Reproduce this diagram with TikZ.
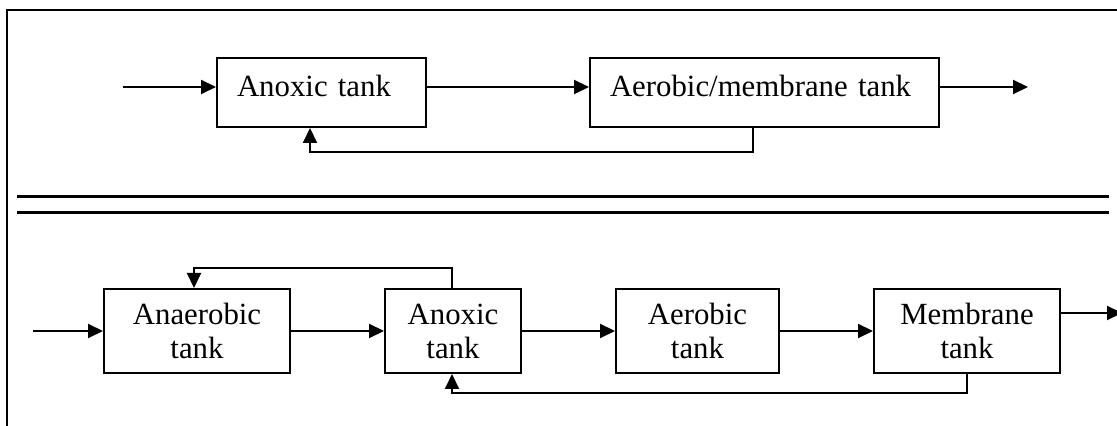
\documentclass[tikz,border=0pt]{standalone}
\usepackage{fontspec}
\setmainfont{Liberation Serif}
\usetikzlibrary{arrows.meta,positioning}

\begin{document}
\begin{tikzpicture}[x=0.5pt,y=-0.5pt,line width=1pt,>={Triangle[length=7.5pt,width=7pt]},
    tank/.style = {draw,inner sep=0pt,align=center,minimum height=42pt,font=\fontsize{15.4}{17}\selectfont},
    toptank/.style = {draw,inner xsep=10pt,inner ysep=9pt,align=left,text height=10.5pt,text depth=6pt,font=\fontsize{15.4}{17}\selectfont},
    rule/.style = {line width=1.5pt}]
    \useasboundingbox (0,0) rectangle (1117,426);
    % frame and separator
    \draw (7,440) -- (7,10) -- (1130,10);
    \draw[rule] (17,197) -- (1109,197);
    \draw[rule] (17,213) -- (1109,213);
    % upper scheme
    \node[toptank,text width=84.5pt](anoxA) at (321.5,92.5){Anoxic tank};
    \node[toptank,text width=154.5pt,right=81pt of anoxA](aerobA){Aerobic/membrane tank};
    \coordinate (inA) at (123,87);
    \coordinate (outA) at (1028,87);
    \draw[->] (inA) -- (anoxA.west |- inA);
    \draw[->] (anoxA.east |- inA) -- (aerobA.west |- inA);
    \draw[->] (aerobA.east |- inA) -- (outA);
    \draw[->] ([xshift=-5.75pt]aerobA.south) -- ++(0,24) -| ([xshift=-5.75pt]anoxA.south);
    % lower scheme
    \node[tank,minimum width=93pt](anaer) at (197,331){Anaerobic\\tank};
    \node[tank,minimum width=68pt,right=46.5pt of anaer](anox){Anoxic\\tank};
    \node[tank,minimum width=81.5pt,right=46.5pt of anox](aerob){Aerobic\\tank};
    \node[tank,minimum width=93pt,right=46.5pt of aerob](memb){Membrane\\tank};
    \coordinate (inB) at (33,331);
    \coordinate (outB) at (1122,313);
    \draw[->] (inB) -- (anaer);
    \draw[->] (anaer) -- (anox);
    \draw[->] (anox) -- (aerob);
    \draw[->] (aerob) -- (memb);
    \draw[->] (memb.east |- outB) -- (outB);
    \draw[->] ([xshift=-0.5pt]anox.north) -- ++(0,-20) -| ([xshift=-1.5pt]anaer.north);
    \draw[->] (memb.south) -- ++(0,19) -| ([xshift=-0.5pt]anox.south);
\end{tikzpicture}
\end{document}
